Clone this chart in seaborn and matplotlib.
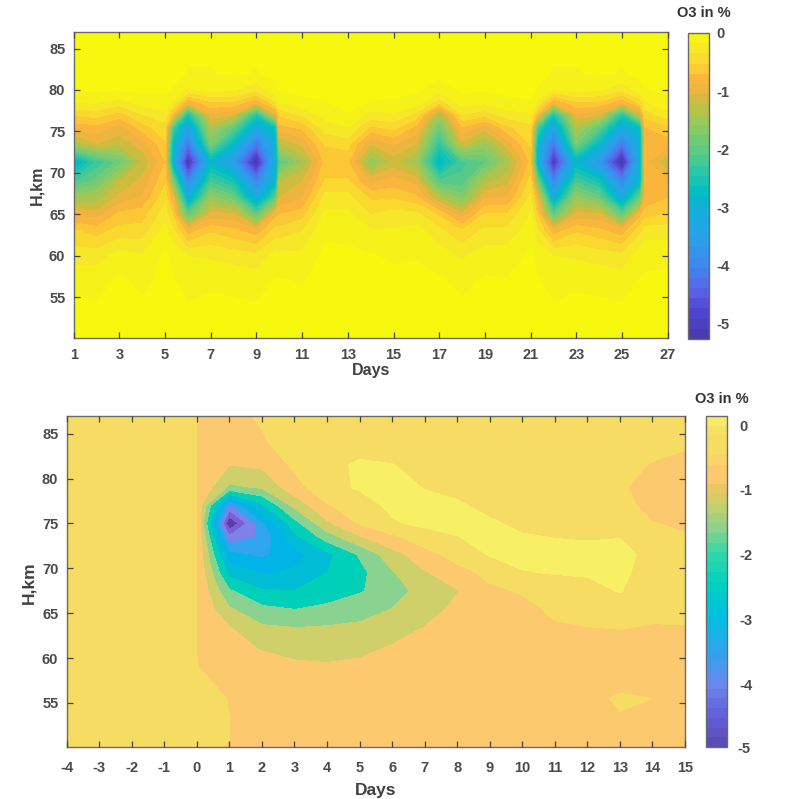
import numpy as np
import matplotlib
matplotlib.use("Agg")
import matplotlib.pyplot as plt
from matplotlib.cm import ScalarMappable
from matplotlib.colors import BoundaryNorm, LinearSegmentedColormap, ListedColormap, to_hex
import seaborn as sns

# upper panel: one list per day, from low to high altitude
# (fractional days mark the steep flanks of the strong events)
top_days = [1, 2, 3, 4, 5, 5.35, 6, 7, 8, 9, 9.85, 10, 11, 12, 13, 14, 15, 16, 17, 18, 19, 20, 21, 21.3,
            22, 23, 24, 25, 25.8, 26, 27]
top_heights = [50, 54, 57, 60, 63, 65, 67, 69, 71.3, 73.5, 75.5, 77, 78.5, 80, 82, 87]
top_o3 = [
    [0, -.01, -.08, -.3, -.55, -.95, -1.5, -2.2, -3, -1.4, -.85, -.55, -.2, -.01, 0, 0],
    [0, -.03, -.1, -.3, -.65, -1, -1.4, -1.9, -2.3, -1.1, -.8, -.5, -.2, -.02, 0, 0],
    [0, 0, -.02, -.15, -.5, -.7, -1.05, -1.25, -1.9, -1.2, -1, -.65, -.3, -.02, 0, 0],
    [0, -.02, -.08, -.2, -.5, -.65, -.9, -1.05, -1.25, -1, -.65, -.4, -.12, -.02, 0, 0],
    [0, 0, 0, -.01, -.15, -.3, -.45, -.6, -.75, -.6, -.45, -.3, -.1, -.02, 0, 0],
    [0, 0, -.03, -.1, -.35, -.6, -.9, -1.8, -3, -2.8, -2.2, -.8, -.25, -.05, 0, 0],
    [0, -.03, -.1, -.22, -.85, -2, -3.1, -4, -5.2, -4.2, -3.4, -2.6, -.9, -.25, -.05, 0],
    [0, -.01, -.07, -.25, -.6, -1.05, -1.55, -2.2, -2.9, -1.8, -1.35, -.95, -.6, -.15, -.05, 0],
    [0, -.02, -.08, -.3, -.7, -1.05, -1.9, -2.6, -3.6, -2.8, -2, -1.1, -.6, -.2, -.02, 0],
    [0, -.03, -.12, -.35, -.85, -2, -3.2, -4, -5.3, -4.2, -3.2, -2.5, -.9, -.35, -.05, 0],
    [0, 0, -.03, -.15, -.5, -.8, -2, -2.9, -3, -3, -2.6, -1, -.4, -.1, 0, 0],
    [0, 0, -.03, -.17, -.5, -.75, -1.1, -1.3, -2.1, -1.3, -.8, -.55, -.22, -.03, 0, 0],
    [0, 0, -.05, -.17, -.4, -.65, -.95, -1.1, -1.45, -1.05, -.7, -.35, -.08, 0, 0, 0],
    [0, 0, 0, 0, -.08, -.18, -.32, -.55, -.7, -.55, -.3, -.15, -.05, 0, 0, 0],
    [0, 0, 0, -.01, -.08, -.18, -.32, -.55, -.7, -.5, -.22, -.05, 0, 0, 0, 0],
    [0, 0, 0, -.03, -.2, -.4, -.6, -.95, -1.6, -1.1, -.6, -.28, -.05, 0, 0, 0],
    [0, 0, -.01, -.06, -.2, -.32, -.6, -.85, -1.2, -.9, -.5, -.25, -.06, 0, 0, 0],
    [0, 0, -.01, -.05, -.15, -.35, -.7, -1, -1.5, -1.1, -.8, -.45, -.12, -.02, 0, 0],
    [0, 0, -.02, -.12, -.35, -.6, -1.3, -2.1, -2.9, -2.4, -1.9, -1.4, -.5, -.12, -.01, 0],
    [0, -.02, -.08, -.25, -.55, -1.05, -1.7, -2.1, -2.2, -1.15, -.75, -.4, -.12, -.02, 0, 0],
    [0, 0, -.02, -.12, -.35, -.55, -.95, -1.35, -2, -1.5, -1, -.5, -.18, -.02, 0, 0],
    [0, 0, -.03, -.13, -.35, -.55, -.9, -1.15, -1.4, -1, -.6, -.3, -.08, 0, 0, 0],
    [0, 0, 0, -.01, -.1, -.2, -.35, -.5, -.7, -.55, -.45, -.25, -.06, 0, 0, 0],
    [0, 0, -.03, -.1, -.35, -.6, -.9, -1.8, -3, -2.8, -2.2, -.8, -.25, -.05, 0, 0],
    [0, -.03, -.1, -.22, -.85, -2, -3.1, -4, -5.1, -4.2, -3.4, -2.6, -.9, -.25, -.05, 0],
    [0, -.01, -.07, -.25, -.6, -1.05, -1.55, -2.2, -2.9, -1.8, -1.35, -.95, -.6, -.15, -.05, 0],
    [0, -.02, -.08, -.3, -.7, -1.05, -1.9, -2.6, -3.7, -2.8, -2, -1.1, -.6, -.2, -.02, 0],
    [0, -.03, -.12, -.35, -.85, -2, -3.2, -4, -5.3, -4.2, -3.2, -2.5, -.9, -.35, -.05, 0],
    [0, 0, -.03, -.12, -.45, -.8, -1.9, -2.8, -3, -3, -2.7, -1.2, -.5, -.12, 0, 0],
    [0, 0, -.02, -.08, -.3, -.65, -.9, -.85, -.85, -.8, -.75, -.5, -.25, -.05, 0, 0],
    [0, 0, -.01, -.08, -.3, -.55, -.75, -.9, -1.25, -.85, -.6, -.28, -.08, -.01, 0, 0],
]

# lower panel: one list per day, from low to high altitude
low_days = list(range(-4, 16))
low_heights = [50, 51, 53.5, 55.5, 59, 61, 63.5, 65.5, 67.5, 69.5, 71.5, 73.5, 75, 77, 79, 81.5, 84, 87]
low_o3 = [
    [-.3] * 18,
    [-.3] * 18,
    [-.3] * 18,
    [-.3] * 18,
    [-.3, -.3, -.3, -.3, -.49, -.505, -.505, -.505, -.505, -.505, -.505, -.505, -.505, -.505, -.505, -.505, -.505, -.505],
    [-.55, -.5, -.5, -.52, -.7, -.85, -1, -1.45, -1.95, -2.65, -3.35, -4.4, -5.5, -4.1, -1.6, -1.0, -.7, -.6],
    [-.6, -.6, -.65, -.7, -.85, -1.02, -1.45, -1.9, -2.45, -3.05, -3.6, -3.9, -3.6, -2.6, -1.45, -.9, -.55, -.45],
    [-.6, -.6, -.65, -.7, -.9, -1.15, -1.52, -2.02, -2.5, -2.9, -3.2, -2.65, -2.2, -1.35, -.7, -.4, -.3, -.3],
    [-.6, -.6, -.65, -.7, -.95, -1.15, -1.48, -1.9, -2.25, -2.5, -2.65, -1.75, -1.1, -.55, -.15, -.2, -.3, -.3],
    [-.6, -.6, -.65, -.7, -.9, -1.1, -1.42, -1.72, -2.05, -2.15, -1.95, -1.05, -.45, -.2, .05, .1, -.3, -.3],
    [-.6, -.6, -.6, -.65, -.8, -.95, -1.2, -1.5, -1.72, -1.55, -1.2, -.6, -.05, .1, .2, .02, -.3, -.3],
    [-.6, -.6, -.6, -.6, -.65, -.75, -1.0, -1.2, -1.3, -1.05, -.7, -.2, .1, .15, -.02, -.2, -.3, -.3],
    [-.6, -.6, -.6, -.6, -.6, -.65, -.75, -.9, -1.02, -.7, -.3, -.01, .1, .05, -.1, -.25, -.3, -.3],
    [-.6, -.6, -.6, -.6, -.55, -.6, -.65, -.7, -.6, -.35, .03, .1, .05, -.1, -.2, -.25, -.3, -.3],
    [-.6, -.6, -.6, -.6, -.58, -.6, -.65, -.65, -.45, -.02, .1, .03, -.08, -.15, -.2, -.25, -.3, -.3],
    [-.6, -.6, -.6, -.6, -.6, -.6, -.55, -.4, -.2, .02, .1, -.01, -.1, -.15, -.2, -.25, -.3, -.3],
    [-.6, -.6, -.6, -.6, -.6, -.6, -.5, -.35, -.15, .05, .1, -.03, -.1, -.2, -.25, -.3, -.3, -.3],
    [-.6, -.6, -.52, -.45, -.75, -.65, -.48, -.2, .03, .1, .1, -.01, -.15, -.3, -.42, -.35, -.3, -.3],
    [-.6, -.6, -.6, -.5, -.6, -.58, -.52, -.4, -.3, -.2, -.1, -.25, -.48, -.7, -.75, -.53, -.35, -.3],
    [-.6, -.6, -.6, -.6, -.6, -.58, -.51, -.4, -.35, -.3, -.3, -.45, -.6, -.7, -.7, -.6, -.45, -.35],
]

# colour scales, as (value, colour)
top_scale_values = [-5.26, -4.8, -4.4, -4, -3.5, -3, -2.7, -2.3, -2, -1.5, -1.2, -1, -.8, -.5, -.3, 0]
top_scale_colors = ["#463aa8", "#5045d0", "#5a65e8", "#3d88f0", "#2aa0e8", "#10b0d8", "#00c0c0",
                    "#38c7a0", "#60cb80", "#9bc95b", "#c9bd3d", "#ebb540", "#fcb53b", "#fbd72f",
                    "#f6e62a", "#f8f80f"]
low_scale_values = [-4.97, -4.5, -4, -3.5, -2.97, -2.46, -2, -1.6, -1.23, -1.03, -.87, -.6, -.45, -.15, .14]
low_scale_colors = ["#5a48b0", "#6060d8", "#6a88ec", "#30a4ee", "#00c0e0", "#00d0c0", "#30d8a8",
                    "#8ad28f", "#c8d06a", "#e0c860", "#fdc96f", "#fdc96f", "#f7dc63", "#f7dc63", "#f7f065"]
# filled bands of the lower panel, bottom to top
low_levels = [-5.6, -5, -4.5, -4, -3.5, -3, -2.5, -2, -1.5, -1, -.5, 0, .4]
low_band_colors = ["#5b3fa8", "#7a5fd8", "#7f80ea", "#30a4ee", "#00b4e8", "#00bcd4", "#00d0b8",
                   "#8ad28f", "#cfd06a", "#fdc96f", "#f7dc63", "#f7f065"]

sns.set_theme(style="ticks")
plt.rcParams["font.family"] = ["Liberation Sans", "DejaVu Sans"]
plt.rcParams["font.weight"] = "bold"
plt.rcParams["axes.unicode_minus"] = False

W, H = 786, 799
text_color = "#4a4a4a"
fig = plt.figure(figsize=(W / 100, H / 100), dpi=100)


def box(x0, y0, x1, y1):
    return [x0 / W, 1 - y1 / H, (x1 - x0) / W, (y1 - y0) / H]


def scale_palette(values, colors, vmin, vmax, n):
    # colours at the middle of n equal bands, placed by value
    lo, hi = values[0], values[-1]
    pos = [(v - lo) / (hi - lo) for v in values]
    cmap = LinearSegmentedColormap.from_list("scale", list(zip(pos, colors)))
    edges = np.linspace(vmin, vmax, n + 1)
    mids = (edges[:-1] + edges[1:]) / 2
    return sns.color_palette([to_hex(cmap((m - lo) / (hi - lo))) for m in mids])


def style_axes(ax, days, xpad):
    ax.set_axisbelow(False)
    ax.set_xlim(days[0], days[1])
    ax.set_ylim(50.05, 87)
    ax.set_yticks([55, 60, 65, 70, 75, 80, 85])
    ax.tick_params(direction="in", length=4, width=0.9, color="#444444", labelsize=10.5,
                   labelcolor=text_color, top=True, right=True, pad=6)
    ax.tick_params(axis="x", pad=xpad)
    for s in ax.spines.values():
        s.set_color("#6a6a6a")
        s.set_linewidth(1)


def colorbar(cax, pal, vmin, vmax, ticks, pad):
    n = len(pal)
    sm = ScalarMappable(BoundaryNorm(np.linspace(vmin, vmax, n + 1), n), ListedColormap(pal))
    cb = fig.colorbar(sm, cax=cax, drawedges=False, spacing="proportional")
    cb.minorticks_off()
    cb.set_ticks(ticks)
    cb.set_ticklabels([str(t) for t in ticks])
    cax.tick_params(direction="in", length=2, width=0.8, color="#444444", labelsize=10.5,
                    labelcolor=text_color, pad=pad)
    cb.outline.set_edgecolor("#6a6a6a")
    cb.outline.set_linewidth(1)


# upper panel, the outermost contour sits close to zero
ax1 = fig.add_axes(box(73.7, 32, 667.7, 338))
levels1 = list(np.linspace(-5.31, -0.04, 31)) + [0.02]
pal1 = [to_hex(c) for c in scale_palette(top_scale_values, top_scale_colors, -5.31, -0.04, 30)] + ["#f8f80f"]
ax1.contourf(top_days, top_heights, np.array(top_o3).T, levels=levels1, colors=pal1)
style_axes(ax1, (1, 27), 7)
ax1.set_xticks(list(range(1, 28, 2)))
cax1 = fig.add_axes(box(688, 33, 709, 339))
colorbar(cax1, scale_palette(top_scale_values, top_scale_colors, -5.26, 0, 30), -5.26, 0, [0, -1, -2, -3, -4, -5], 5)

# lower panel
ax2 = fig.add_axes(box(66.7, 415.7, 685, 747.3))
ax2.contourf(low_days, low_heights, np.array(low_o3).T, levels=low_levels, colors=low_band_colors)
style_axes(ax2, (-4, 15), 10)
ax2.set_xticks(low_days)
cax2 = fig.add_axes(box(705.7, 416, 727, 747))
colorbar(cax2, scale_palette(low_scale_values, low_scale_colors, -4.97, 0.14, 34), -4.97, 0.14, [0, -1, -2, -3, -4], 9)

# axis labels and colorbar titles
for x, y, s, rot, size in [(371, 371, "Days", 0, 11.5), (37, 185, "H,km", 90, 11.5),
                           (376, 790, "Days", 0, 12.5), (29, 583, "H,km", 90, 12.5)]:
    fig.text(x / W, 1 - y / H, s, ha="center", va="center", rotation=rot, fontsize=size, color="#404040")
fig.text(704 / W, 1 - 13 / H, "O3 in %", ha="center", va="center", fontsize=10.5, color="#333333")
fig.text(722 / W, 1 - 399 / H, "O3 in %", ha="center", va="center", fontsize=10.5, color="#333333")
# -5 sits just under the end of the lower colorbar
fig.text(737 / W, 1 - 749 / H, "-5", ha="left", va="center", fontsize=10.5, color=text_color)

fig.savefig("out.png", dpi=100)
